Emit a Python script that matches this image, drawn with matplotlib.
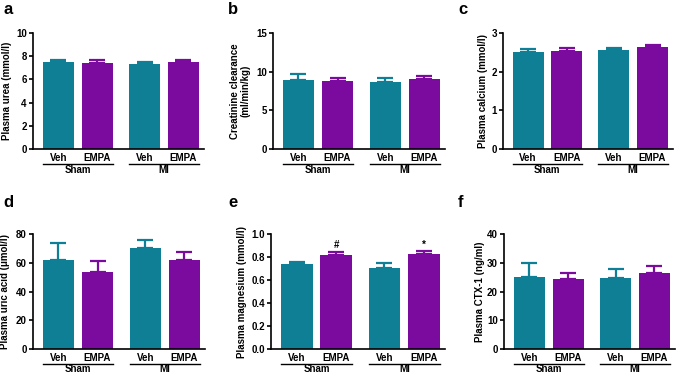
import numpy as np
import matplotlib
matplotlib.use("Agg")
import matplotlib.pyplot as plt
import matplotlib.transforms as mtransforms

plt.rcParams['font.family'] = ['Liberation Sans', 'DejaVu Sans']
plt.rcParams['font.weight'] = 'bold'

# data: Sham-Veh, Sham-EMPA, MI-Veh, MI-EMPA
groups = ["Sham", "MI"]
treatments = ["Veh", "EMPA", "Veh", "EMPA"]

urea = [7.5, 7.45, 7.3, 7.5]
urea_err = [0.2, 0.25, 0.22, 0.2]
creat = [8.97, 8.79, 8.62, 9.0]
creat_err = [0.73, 0.4, 0.56, 0.48]
calcium = [2.51, 2.54, 2.57, 2.63]
calcium_err = [0.07, 0.07, 0.04, 0.05]
uric = [62.0, 53.5, 70.5, 62.2]
uric_err = [11.5, 7.5, 5.5, 5.1]
magnesium = [0.735, 0.82, 0.706, 0.83]
magnesium_err = [0.02, 0.027, 0.038, 0.02]
ctx = [25.2, 24.2, 24.7, 26.4]
ctx_err = [4.7, 2.3, 3.2, 2.4]

panels = [
    ("a", urea, urea_err, "Plasma urea (mmol/l)", (0, 10), np.arange(0, 11, 2), "{:.0f}", None),
    ("b", creat, creat_err, "Creatinine clearance\n(ml/min/kg)", (0, 15), np.arange(0, 16, 5), "{:.0f}", None),
    ("c", calcium, calcium_err, "Plasma calcium (mmol/l)", (0, 3), np.arange(0, 4, 1), "{:.0f}", None),
    ("d", uric, uric_err, "Plasma uric acid (\u03bcmol/l)", (0, 80), np.arange(0, 81, 20), "{:.0f}", None),
    ("e", magnesium, magnesium_err, "Plasma magnesium (mmol/l)", (0, 1.0), np.arange(0, 1.01, 0.2), "{:.1f}", ["", "#", "", "*"]),
    ("f", ctx, ctx_err, "Plasma CTX-1 (ng/ml)", (0, 40), np.arange(0, 41, 10), "{:.0f}", None),
]

teal = "#0f7f96"
purple = "#7b0a9e"
colors = [teal, purple, teal, purple]
xpos = np.array([0, 1, 2.22, 3.22])
width = 0.8

W, H = 682, 374
# axes boxes in pixels: left, right, top, bottom ; ylabel x centre ; panel letter x,y
boxes = [
    (33, 204, 33, 149, 7, 3, 10),
    (273, 445, 33, 149, 240, 228, 10),
    (503, 673, 33, 149, 483, 458, 10),
    (33, 205, 234, 349, 5, 3, 203),
    (271, 445, 234, 349, 242, 228, 203),
    (504, 675, 234, 349, 480, 458, 203),
]

fig = plt.figure(figsize=(W / 100, H / 100), dpi=100)

for (letter, vals, errs, ylab, ylim, yticks, fmt, marks), box in zip(panels, boxes):
    l, r, t, b, ylx, lx, ly = box
    ax = fig.add_axes([l / W, 1 - b / H, (r - l) / W, (b - t) / H])
    ax.bar(xpos, vals, width=width, color=colors, zorder=2)
    for x, v, e, c in zip(xpos, vals, errs, colors):
        ax.errorbar(x, v, yerr=[[0], [e]], color=c, capsize=5.5, elinewidth=1.6,
                    capthick=1.6, zorder=1)
    ax.set_ylim(*ylim)
    ax.set_xlim(-0.65, 3.75)
    ax.set_yticks(yticks)
    ax.set_yticklabels([fmt.format(v) for v in yticks])
    ax.set_xticks(xpos)
    ax.set_xticklabels(treatments)
    ax.tick_params(axis='x', length=0, pad=3, labelsize=7)
    ax.tick_params(axis='y', length=3, width=1.2, pad=1.5, labelsize=7)
    for s in ["top", "right"]:
        ax.spines[s].set_visible(False)
    for s in ["left", "bottom"]:
        ax.spines[s].set_linewidth(1.2)

    if marks:
        for x, v, e, m in zip(xpos, vals, errs, marks):
            if m:
                ax.text(x, v + e + 0.01, m, ha='center', va='bottom', fontsize=7, fontweight='bold')

    trans = mtransforms.blended_transform_factory(ax.transData, ax.transAxes)
    for gi, g in enumerate(groups):
        x0 = xpos[2 * gi] - width / 2
        x1 = xpos[2 * gi + 1] + width / 2
        ax.plot([x0, x1], [-0.13, -0.13], color='black', lw=1.0, transform=trans, clip_on=False)
        ax.text((x0 + x1) / 2, -0.177, g, ha='center', va='center', fontsize=7,
                transform=trans, fontweight='bold')

    fig.text(ylx / W, 1 - (t + b) / 2 / H, ylab, rotation=90, ha='center', va='center',
             fontsize=7, fontweight='bold', linespacing=1.1)
    fig.text(lx / W, 1 - ly / H, letter, ha='left', va='center', fontsize=12, fontweight='bold')

fig.savefig("out.png", dpi=100)
